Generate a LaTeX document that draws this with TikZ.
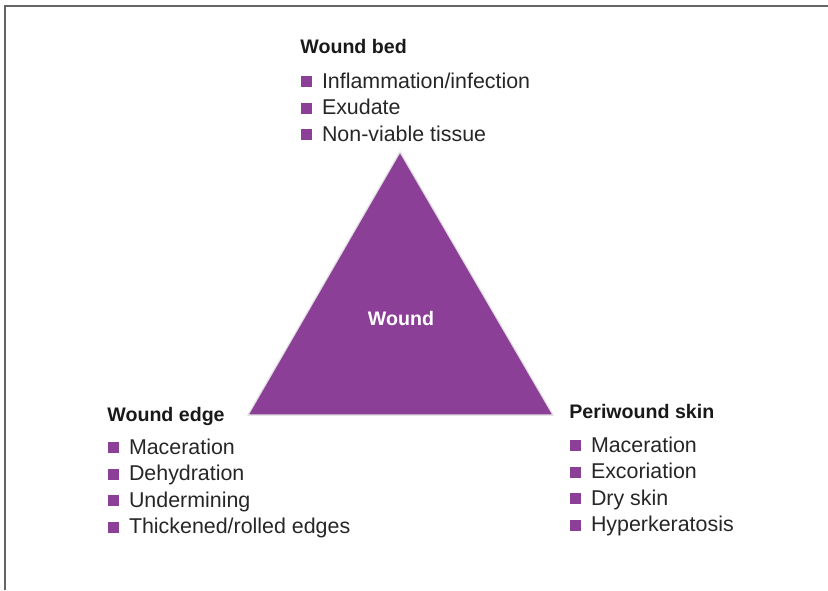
\documentclass[tikz,border=0pt]{standalone}
\usepackage{fontspec}
\setmainfont{Liberation Sans}
\usepackage{tikz}

\definecolor{woundpurple}{RGB}{140,63,150}
\definecolor{framegray}{RGB}{100,100,100}
\newcommand{\sqbullet}{\textcolor{woundpurple}{\rule[0.5pt]{5.3pt}{5.3pt}}\hspace{5pt}}

\begin{document}
\begin{tikzpicture}[
        x=0.5pt,y=-0.5pt,
        heading/.style={anchor=base west,inner sep=0pt,font=\fontsize{9.8pt}{11pt}\selectfont\bfseries,text=black!90},
        entry/.style={anchor=base west,inner sep=0pt,font=\fontsize{10.7pt}{12pt}\selectfont,text=black!85}
    ]
        \useasboundingbox (0,0) rectangle (828,590);

        % frame
        \draw[framegray,line width=1.2pt] (828,5.7) -- (5,5.7) -- (5,590);

        % triangle
        \coordinate (apex) at (400,152);
        \coordinate (left) at (248,415);
        \coordinate (right) at (553,415);
        \fill[woundpurple,draw=black!12,line width=0.6pt] (apex) -- (left) -- (right) -- cycle;
        \node[inner sep=0pt,font=\fontsize{9.8pt}{11pt}\selectfont\bfseries,text=white] (wound) at (401,318) {Wound};

        % wound bed
        \node[heading] (bed) at (300,53.5) {Wound bed};
        \node[entry] (bed1) at (301,88) {\sqbullet Inflammation/infection};
        \node[entry] (bed2) at (301,114.5) {\sqbullet Exudate};
        \node[entry] (bed3) at (301,141) {\sqbullet Non-viable tissue};

        % wound edge
        \node[heading] (edge) at (107,421) {Wound edge};
        \node[entry] (edge1) at (108,454) {\sqbullet Maceration};
        \node[entry] (edge2) at (108,480.5) {\sqbullet Dehydration};
        \node[entry] (edge3) at (108,507) {\sqbullet Undermining};
        \node[entry] (edge4) at (108,533.5) {\sqbullet Thickened/rolled edges};

        % periwound skin
        \node[heading] (peri) at (569,418) {Periwound skin};
        \node[entry] (peri1) at (570,452) {\sqbullet Maceration};
        \node[entry] (peri2) at (570,478.5) {\sqbullet Excoriation};
        \node[entry] (peri3) at (570,505) {\sqbullet Dry skin};
        \node[entry] (peri4) at (570,531.5) {\sqbullet Hyperkeratosis};
    \end{tikzpicture}
\end{document}
